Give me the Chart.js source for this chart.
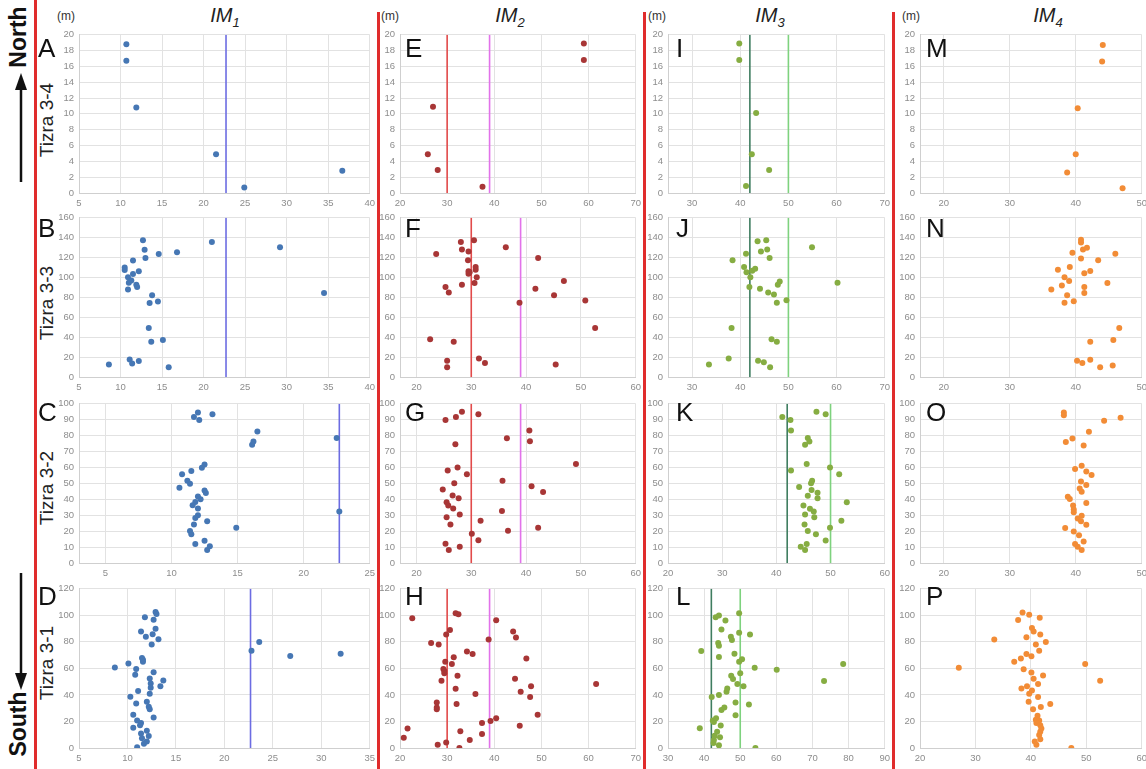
<!DOCTYPE html>
<html>
<head>
<meta charset="utf-8">
<script src="https://cdn.jsdelivr.net/npm/chart.js@4.4.1/dist/chart.umd.min.js"></script>
<style>
  html, body { margin: 0; padding: 0; width: 1146px; height: 769px; overflow: hidden; background: #fff;
    font-family: 'Liberation Sans', Arial, sans-serif; }
  .pn { position: absolute; }
  .sep { position: absolute; width: 3px; background: #e02c2c; }
  .title { position: absolute; top: 4px; font-style: italic; font-size: 20px; color: #222; transform: translateX(-50%); }
  .title sub { font-size: 13px; }
  .m { position: absolute; top: 9px; font-size: 12px; color: #333; }
  .lt { position: absolute; font-size: 26px; line-height: 1; color: #111; }
  .row { position: absolute; font-size: 19px; color: #222; white-space: nowrap; transform: translate(-50%, -50%) rotate(-90deg); }
  .dir { position: absolute; font-size: 23px; font-weight: bold; color: #111; transform: translate(-50%, -50%) rotate(-90deg); }
</style>
</head>
<body>
<div class="sep" style="left:34px;top:0;height:769px"></div>
<div class="sep" style="left:377px;top:12px;height:757px"></div>
<div class="sep" style="left:643px;top:12px;height:757px"></div>
<div class="sep" style="left:892px;top:12px;height:757px"></div>

<div class="title" style="left:225px">IM<sub>1</sub></div>
<div class="title" style="left:510px">IM<sub>2</sub></div>
<div class="title" style="left:770px">IM<sub>3</sub></div>
<div class="title" style="left:1048px">IM<sub>4</sub></div>
<div class="m" style="left:57px">(m)</div>
<div class="m" style="left:381px">(m)</div>
<div class="m" style="left:648px">(m)</div>
<div class="m" style="left:902px">(m)</div>

<div class="dir" style="left:18px;top:37px">North</div>
<div class="dir" style="left:18px;top:724px">South</div>
<svg style="position:absolute;left:0;top:0" width="40" height="769">
  <line x1="21" y1="182" x2="21" y2="86" stroke="#111" stroke-width="2.5"/>
  <polygon points="21,73 15,90 27,90" fill="#111"/>
  <line x1="21" y1="573" x2="21" y2="676" stroke="#111" stroke-width="2.5"/>
  <polygon points="21,690 15,673 27,673" fill="#111"/>
</svg>
<div class="row" style="left:47px;top:120px">Tizra 3-4</div>
<div class="row" style="left:47px;top:303px">Tizra 3-3</div>
<div class="row" style="left:47px;top:488px">Tizra 3-2</div>
<div class="row" style="left:47px;top:663px">Tizra 3-1</div>

<script>
// ---- data (x = index value, y = depth in m) ----
const A_PTS = [[10.7,18.8],[10.7,16.7],[11.9,10.8],[21.5,4.9],[24.9,0.7],[36.7,2.8]];
const B_PTS = [[12.7,137.3],[12.9,127.8],[13.0,119.6],[14.6,123.5],[16.8,125.2],[21.0,135.7],[29.2,130.4],[11.5,117.0],
  [10.5,110.1],[10.5,107.4],[12.2,106.1],[11.5,103.5],[10.9,100.2],[11.3,96.9],[11.0,94.6],[11.9,92.6],[12.0,90.3],
  [10.9,88.0],[13.8,82.1],[14.5,75.9],[13.5,74.2],[34.5,84.4],[13.4,49.3],[13.7,35.5],[15.1,37.1],[8.6,12.5],
  [11.1,17.7],[11.4,13.5],[12.2,16.1],[15.8,9.9]];
const C_PTS = [[12.0,94.5],[11.7,91.6],[12.1,89.8],[13.1,93.4],[16.1,74.2],[16.2,76.2],[16.5,82.6],[22.5,78.5],
  [22.7,32.4],[12.5,61.9],[12.3,59.8],[11.5,57.8],[10.8,55.7],[11.2,51.6],[11.4,49.8],[10.6,47.3],[12.5,45.5],
  [12.6,43.9],[12.0,41.8],[12.2,40.0],[11.8,38.3],[11.6,36.3],[12.0,34.2],[12.0,29.9],[11.8,28.3],[12.7,26.2],
  [11.7,24.2],[11.4,20.1],[11.5,18.0],[14.9,22.1],[11.8,11.9],[12.5,13.9],[12.9,10.5],[12.7,8.2]];
const D_PTS = [[12.9,102.4],[13.0,100.9],[11.8,98.5],[12.7,96.7],[12.9,89.9],[11.4,87.7],[12.6,85.7],[11.9,83.8],
  [13.2,82.0],[12.5,77.9],[11.5,67.8],[11.6,66.4],[11.6,64.9],[10.1,63.7],[8.7,60.7],[10.9,59.5],[10.8,55.1],
  [12.7,57.1],[13.7,50.9],[12.3,52.4],[12.4,48.5],[13.4,46.5],[12.4,45.3],[11.1,42.9],[12.3,40.9],[10.3,38.7],
  [12.0,34.8],[10.9,33.6],[12.2,31.1],[12.3,29.1],[10.6,25.0],[12.7,23.0],[11.0,20.8],[11.4,18.9],[11.3,17.1],
  [10.6,15.2],[12.0,13.0],[11.4,11.0],[12.2,9.1],[11.5,7.3],[12.0,4.9],[11.7,3.2],[11.0,0.5],[22.8,73.2],
  [23.6,79.8],[26.8,69.3],[32.0,71.0]];

const E_PTS = [[27.0,10.9],[25.9,4.9],[28.0,2.9],[37.5,0.8],[59.0,18.9],[59.0,16.8]];
const F_PTS = [[23.6,123.5],[22.5,37.8],[26.8,35.5],[25.6,16.4],[25.6,9.9],[25.3,90.3],[25.9,84.8],[28.1,135.7],
  [28.3,128.1],[28.3,92.6],[29.5,126.1],[29.4,117.3],[29.5,106.1],[29.5,103.8],[29.7,105.1],[30.5,137.3],
  [30.8,110.4],[30.8,107.7],[31.0,100.2],[30.6,94.3],[31.4,18.7],[32.5,14.1],[36.3,130.4],[38.8,74.6],
  [42.2,119.6],[41.7,88.7],[45.1,82.1],[46.9,96.3],[45.4,12.5],[50.8,76.9],[52.6,49.3]];
const G_PTS = [[25.3,89.8],[27.2,91.6],[28.3,94.9],[31.3,93.4],[27.1,74.6],[25.7,58.0],[27.5,60.0],[29.2,55.7],
  [26.9,50.0],[24.8,46.1],[26.6,42.4],[27.7,40.6],[25.5,38.1],[25.8,36.1],[26.7,34.2],[25.5,28.7],[27.9,30.5],
  [26.2,24.2],[31.7,26.6],[30.1,18.4],[31.3,14.3],[25.3,12.1],[25.9,8.2],[27.9,10.2],[36.5,78.3],[35.7,51.6],
  [35.6,32.6],[36.7,20.3],[40.6,83.2],[40.7,76.4],[41.0,48.2],[43.1,44.5],[42.2,22.1],[49.1,62.1]];
const H_PTS = [[20.8,7.8],[21.6,14.7],[22.6,97.7],[26.6,79.1],[28.2,77.9],[27.8,34.3],[27.8,30.6],[27.8,29.1],
  [28.0,2.4],[28.8,50.7],[29.2,59.5],[29.4,58.0],[29.4,56.3],[29.6,64.9],[29.8,85.5],[30.6,88.9],[29.8,4.2],
  [31.0,63.2],[31.4,68.3],[31.8,101.6],[32.4,100.7],[31.8,44.6],[32.2,54.4],[32.0,33.1],[32.8,12.7],[32.6,0.0],
  [34.2,72.7],[35.4,70.8],[36.0,40.7],[34.8,6.1],[37.4,18.9],[37.4,10.5],[38.8,81.8],[39.2,20.3],[40.4,22.5],
  [40.4,96.3],[44.0,87.7],[44.6,83.3],[44.4,52.2],[45.4,16.7],[46.8,67.4],[47.8,46.5],[47.6,38.5],[45.6,42.4],
  [49.2,25.0],[61.6,48.2]];

const I_PTS = [[39.8,18.9],[39.8,16.8],[43.3,10.1],[42.4,4.9],[46.0,2.9],[41.2,0.9]];
const J_PTS = [[33.5,12.5],[37.6,18.7],[38.2,49.3],[38.4,117.3],[41.2,123.8],[40.8,110.4],[41.3,105.1],[42.1,100.2],
  [42.5,106.8],[43.1,108.7],[41.9,90.3],[43.6,136.3],[44.3,126.1],[45.4,137.3],[45.6,128.1],[46.1,119.6],
  [44.1,88.7],[45.8,84.8],[47.0,82.8],[47.6,74.6],[47.8,92.6],[48.2,95.9],[49.6,77.2],[54.9,130.4],[60.2,94.6],
  [46.5,37.8],[47.6,35.5],[43.7,16.4],[44.9,14.8],[46.2,9.9]];
const K_PTS = [[41.1,91.6],[42.6,89.8],[42.7,83.2],[47.4,94.9],[49.1,93.4],[45.8,78.5],[46.1,76.2],[45.3,74.2],
  [42.7,58.0],[45.6,62.1],[49.9,60.0],[51.6,55.7],[46.6,51.6],[46.4,50.0],[44.2,47.7],[46.5,45.9],[47.6,44.1],
  [45.8,42.2],[47.6,40.6],[53.0,38.1],[45.0,36.1],[46.2,34.0],[46.9,32.4],[45.3,30.5],[47.0,28.7],[52.0,26.6],
  [45.2,24.2],[49.9,22.1],[45.8,20.1],[47.3,18.0],[49.1,14.1],[45.6,11.9],[44.5,10.2],[45.3,8.2]];
const L_PTS = [[38.8,14.9],[39.2,73.0],[42.1,38.5],[42.4,20.8],[42.7,19.6],[42.6,3.7],[42.7,6.1],[42.9,9.3],
  [43.3,22.5],[43.6,12.2],[44.1,2.0],[44.4,8.1],[44.6,16.9],[44.1,39.9],[44.1,68.6],[43.9,79.1],[44.1,77.1],
  [43.2,98.5],[44.1,99.9],[44.8,89.2],[45.9,96.0],[44.8,28.7],[45.6,30.6],[46.2,42.4],[46.4,44.8],[47.4,83.8],
  [47.7,81.3],[47.5,54.4],[48.0,51.9],[48.4,71.0],[48.7,24.7],[48.7,34.3],[49.2,48.2],[49.7,101.6],[49.7,86.9],
  [49.7,64.9],[50.0,56.3],[50.5,66.9],[50.9,46.5],[52.7,85.5],[52.4,32.8],[54.0,60.5],[54.2,0.0],[60.1,59.0],
  [73.2,50.5],[78.5,63.2]];

const M_PTS = [[44.1,18.7],[44.0,16.6],[40.3,10.7],[40.0,4.9],[38.7,2.6],[47.1,0.6]];
const N_PTS = [[36.3,88.0],[37.3,107.7],[37.9,92.0],[38.3,100.2],[39.0,96.3],[39.1,110.4],[39.5,124.8],[38.7,82.1],
  [38.3,74.6],[39.7,76.2],[40.8,137.9],[40.8,135.0],[40.8,118.9],[41.1,128.1],[41.7,129.8],[41.3,104.1],
  [42.2,106.4],[41.3,90.3],[41.3,84.4],[43.4,117.3],[46.0,123.8],[44.8,94.3],[46.6,49.3],[45.7,37.1],[42.2,35.5],
  [40.2,16.4],[41.0,14.1],[42.2,17.4],[43.7,9.9],[45.6,11.5]];
const O_PTS = [[38.2,94.5],[38.2,92.8],[44.3,89.3],[46.8,91.2],[42.0,82.4],[38.5,76.0],[39.5,78.1],[41.2,73.8],
  [40.9,61.1],[39.9,59.0],[41.6,57.4],[42.4,55.3],[40.8,51.2],[41.6,49.0],[40.6,46.7],[40.9,44.7],[38.8,41.6],
  [39.1,40.2],[41.6,37.7],[39.6,36.1],[39.7,33.6],[39.7,31.8],[40.9,29.7],[40.3,27.9],[40.8,26.2],[41.6,24.0],
  [38.4,21.9],[39.7,19.7],[40.5,17.4],[41.2,13.5],[39.9,11.9],[40.3,10.2],[40.9,8.2]];
const P_PTS = [[27.0,60.5],[33.4,81.8],[38.5,102.1],[37.7,96.5],[39.7,100.4],[41.6,98.2],[40.2,90.4],[40.5,87.7],
  [39.2,83.5],[41.7,85.5],[40.9,77.9],[42.7,79.8],[41.5,73.2],[39.2,70.8],[40.1,69.1],[38.2,67.4],[37.0,64.9],
  [38.7,59.3],[40.1,56.8],[40.5,52.2],[42.2,54.6],[41.3,48.2],[38.3,44.8],[39.3,46.5],[40.2,43.4],[39.7,40.9],
  [41.3,38.5],[39.6,34.8],[43.5,33.1],[41.8,30.9],[40.4,29.1],[41.2,24.2],[40.9,21.3],[41.5,20.8],[41.0,18.9],
  [41.7,17.1],[41.9,14.7],[41.7,12.2],[41.5,9.8],[41.7,6.6],[40.7,4.9],[41.0,2.4],[47.3,0.0],[49.8,63.2],[52.5,50.7]];

// reference lines per column (index thresholds)
const IM1_REF = [22.7];
const IM2_REF = [30, 39];
const IM3_REF = [42, 50];
const IM4_REF = [];

// axes: depth max / step per row, [min, max, step] of the x axis per panel
const Y_MAX = [20, 160, 100, 120];
const Y_STEP = [2, 20, 10, 20];
const X_AXIS = {
  A: [5, 40, 5], B: [5, 40, 5], C: [3, 25, 5], D: [5, 35, 5],
  E: [20, 70, 10], F: [17, 60, 10], G: [17, 60, 10], H: [20, 70, 10],
  I: [25, 70, 10], J: [25, 70, 10], K: [20, 60, 10], L: [30, 90, 10],
  M: [16.4, 50, 10], N: [16.4, 50, 10], O: [16.4, 50, 10], P: [20, 60, 10],
};
const PANELS = [['A', 'B', 'C', 'D'], ['E', 'F', 'G', 'H'], ['I', 'J', 'K', 'L'], ['M', 'N', 'O', 'P']];
const POINTS = { A: A_PTS, B: B_PTS, C: C_PTS, D: D_PTS, E: E_PTS, F: F_PTS, G: G_PTS, H: H_PTS,
  I: I_PTS, J: J_PTS, K: K_PTS, L: L_PTS, M: M_PTS, N: N_PTS, O: O_PTS, P: P_PTS };
const REFS = [IM1_REF, IM2_REF, IM3_REF, IM4_REF];

// ---- look ----
const DOT = ['#4677b4', '#a83636', '#86ad42', '#f28c36'];
const REF_COL = [['#6c6ce2'], ['#e24a4a', '#e272ea'], ['#3f7d60', '#7ed27e']];
const COL_PLOT = [[79, 371], [400, 637], [668, 886], [920, 1143]];
const ROW_PLOT = [[31, 193], [214, 377], [400, 563], [585, 748]];
const LETTER_X = [38, 405, 676, 926];
const LETTER_Y = [35, 215, 399, 583];
const YW = 24, XH = 20, PT = 7, PR = 9;
const FONT = 'Liberation Sans';

function xTicks(min, max, step) {
  const out = [];
  for (let v = Math.ceil(min / step - 1e-9) * step; v <= max + 1e-9; v += step) out.push({ value: v });
  return out;
}

function panel(c, r) {
  const id = PANELS[c][r];
  const [x0, x1] = COL_PLOT[c], [y0, y1] = ROW_PLOT[r];
  const [xmin, xmax, xstep] = X_AXIS[id];
  const W = YW + (x1 - x0) + PR, H = PT + (y1 - y0) + XH;
  const cv = document.createElement('canvas');
  cv.className = 'pn';
  cv.width = W; cv.height = H;
  cv.style.cssText = `left:${x0 - YW}px;top:${y0 - PT}px;width:${W}px;height:${H}px`;
  document.body.appendChild(cv);

  const lt = document.createElement('div');
  lt.className = 'lt';
  lt.textContent = id;
  lt.style.left = LETTER_X[c] + 'px';
  lt.style.top = LETTER_Y[r] + 'px';
  document.body.appendChild(lt);

  const datasets = [{
    type: 'scatter', data: POINTS[id].map(([x, y]) => ({ x, y })),
    backgroundColor: DOT[c], borderWidth: 0, pointRadius: 3, order: 1,
  }];
  REFS[c].forEach((v, i) => datasets.push({
    type: 'line', data: [{ x: v, y: 0 }, { x: v, y: Y_MAX[r] }],
    borderColor: REF_COL[c][i], borderWidth: 1.6, pointRadius: 0, order: 2,
  }));

  const tk = { color: '#8d8d8d', font: { family: FONT, size: 9.5 }, padding: 5 };
  new Chart(cv, {
    type: 'scatter',
    data: { datasets },
    options: {
      responsive: false, animation: false, events: [],
      layout: { padding: { top: PT, right: PR, left: 0, bottom: 0 } },
      plugins: { legend: { display: false }, tooltip: { enabled: false } },
      scales: {
        x: {
          type: 'linear', min: xmin, max: xmax,
          afterBuildTicks: (ax) => { ax.ticks = xTicks(xmin, xmax, xstep); },
          afterFit: (s) => { s.height = XH; },
          grid: { color: '#e2e2e2', drawTicks: false }, border: { color: '#cfcfcf' },
          ticks: { ...tk, maxRotation: 0, autoSkip: false },
        },
        y: {
          min: 0, max: Y_MAX[r],
          afterFit: (s) => { s.width = YW; },
          grid: { color: '#e2e2e2', drawTicks: false }, border: { color: '#cfcfcf' },
          ticks: { ...tk, stepSize: Y_STEP[r], autoSkip: false },
        },
      },
    },
  });
}

for (let c = 0; c < 4; c++) for (let r = 0; r < 4; r++) panel(c, r);
</script>
</body>
</html>
